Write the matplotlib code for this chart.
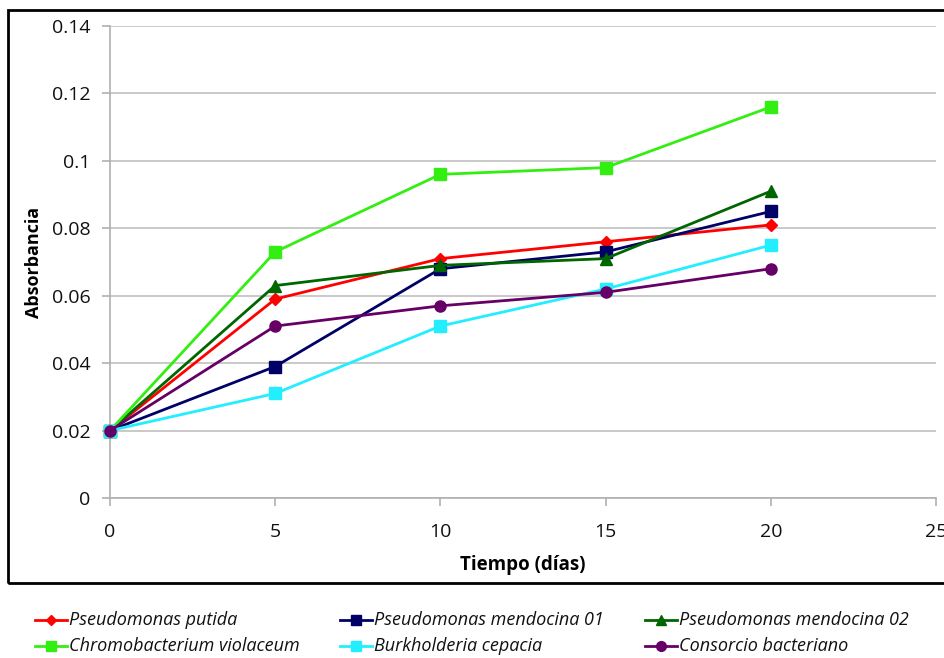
import matplotlib
matplotlib.use("Agg")
import matplotlib.pyplot as plt
from matplotlib.patches import Rectangle
from matplotlib.lines import Line2D

dias = [0, 5, 10, 15, 20]
putida = [0.020, 0.059, 0.071, 0.076, 0.081]
mendocina01 = [0.020, 0.039, 0.068, 0.073, 0.085]
mendocina02 = [0.020, 0.063, 0.069, 0.071, 0.091]
chromobacterium = [0.020, 0.073, 0.096, 0.098, 0.116]
burkholderia = [0.020, 0.031, 0.051, 0.062, 0.075]
consorcio = [0.020, 0.051, 0.057, 0.061, 0.068]

nombres = ["Pseudomonas putida", "Pseudomonas mendocina 01", "Pseudomonas mendocina 02",
           "Chromobacterium violaceum", "Burkholderia cepacia", "Consorcio bacteriano"]
series = [putida, mendocina01, mendocina02, chromobacterium, burkholderia, consorcio]
colores = ["#ff0000", "#000066", "#006600", "#33ee11", "#22eeff", "#660066"]
marcadores = ["D", "s", "^", "s", "s", "o"]
tam = [6, 8, 8, 8, 8, 8]

xticks = [0, 5, 10, 15, 20, 25]
yticks = [0, 0.02, 0.04, 0.06, 0.08, 0.1, 0.12, 0.14]
ytick_labels = ["0", "0.02", "0.04", "0.06", "0.08", "0.1", "0.12", "0.14"]

plt.rcParams['font.family'] = ['Open Sans', 'DejaVu Sans']

W, H = 944, 658
fig = plt.figure(figsize=(W / 100, H / 100), dpi=100)

# outer chart frame
fig.patches.append(Rectangle((8 / W, 1 - 583 / H), (W + 10) / W, (583 - 10) / H,
                             transform=fig.transFigure, fill=False,
                             edgecolor="black", linewidth=2))

ax = fig.add_axes([110 / W, 1 - 498 / H, (936 - 110) / W, (498 - 26) / H])
for y, c, m, s, n in zip(series, colores, marcadores, tam, nombres):
    ax.plot(dias, y, color=c, marker=m, markersize=s, linewidth=2, label=n,
            clip_on=False, zorder=3)

ax.set_xlim(0, 25)
ax.set_ylim(0, 0.14)
ax.set_xticks(xticks)
ax.set_xticklabels([str(t) for t in xticks])
ax.set_yticks(yticks)
ax.set_yticklabels(ytick_labels)
ax.grid(axis="y", color="#c0c0c0", linewidth=1.2)
ax.set_axisbelow(True)
for sp in ["top", "right"]:
    ax.spines[sp].set_visible(False)
for sp in ["left", "bottom"]:
    ax.spines[sp].set_color("#b0b0b0")
    ax.spines[sp].set_linewidth(1.2)
ax.tick_params(axis="both", colors="#b0b0b0", length=6, width=1.2, labelsize=14,
               labelcolor="#111111")
ax.tick_params(axis="x", pad=12)
ax.tick_params(axis="y", pad=8)
ax.set_xlabel("Tiempo (días)", fontsize=13.5, fontweight="bold", labelpad=10)
ax.set_ylabel("Absorbancia", fontsize=13, fontweight="bold", labelpad=6)

# legend below the frame, filled row by row
for i, (c, m, s, n) in enumerate(zip(colores, marcadores, tam, nombres)):
    fila, col = divmod(i, 3)
    x0 = (35 + 305 * col) / W
    x1 = x0 + 32 / W
    yf = 1 - (620 + 26 * fila) / H
    fig.add_artist(Line2D([x0, x1], [yf, yf], color=c, linewidth=2,
                          transform=fig.transFigure))
    fig.add_artist(Line2D([(x0 + x1) / 2], [yf], color=c, marker=m,
                          markersize=s - 1, linestyle="none",
                          transform=fig.transFigure))
    fig.text(x1 + 2 / W, yf, n, fontsize=13, style="italic", va="center",
             ha="left", color="#111111")

fig.savefig("out.png", dpi=100)
